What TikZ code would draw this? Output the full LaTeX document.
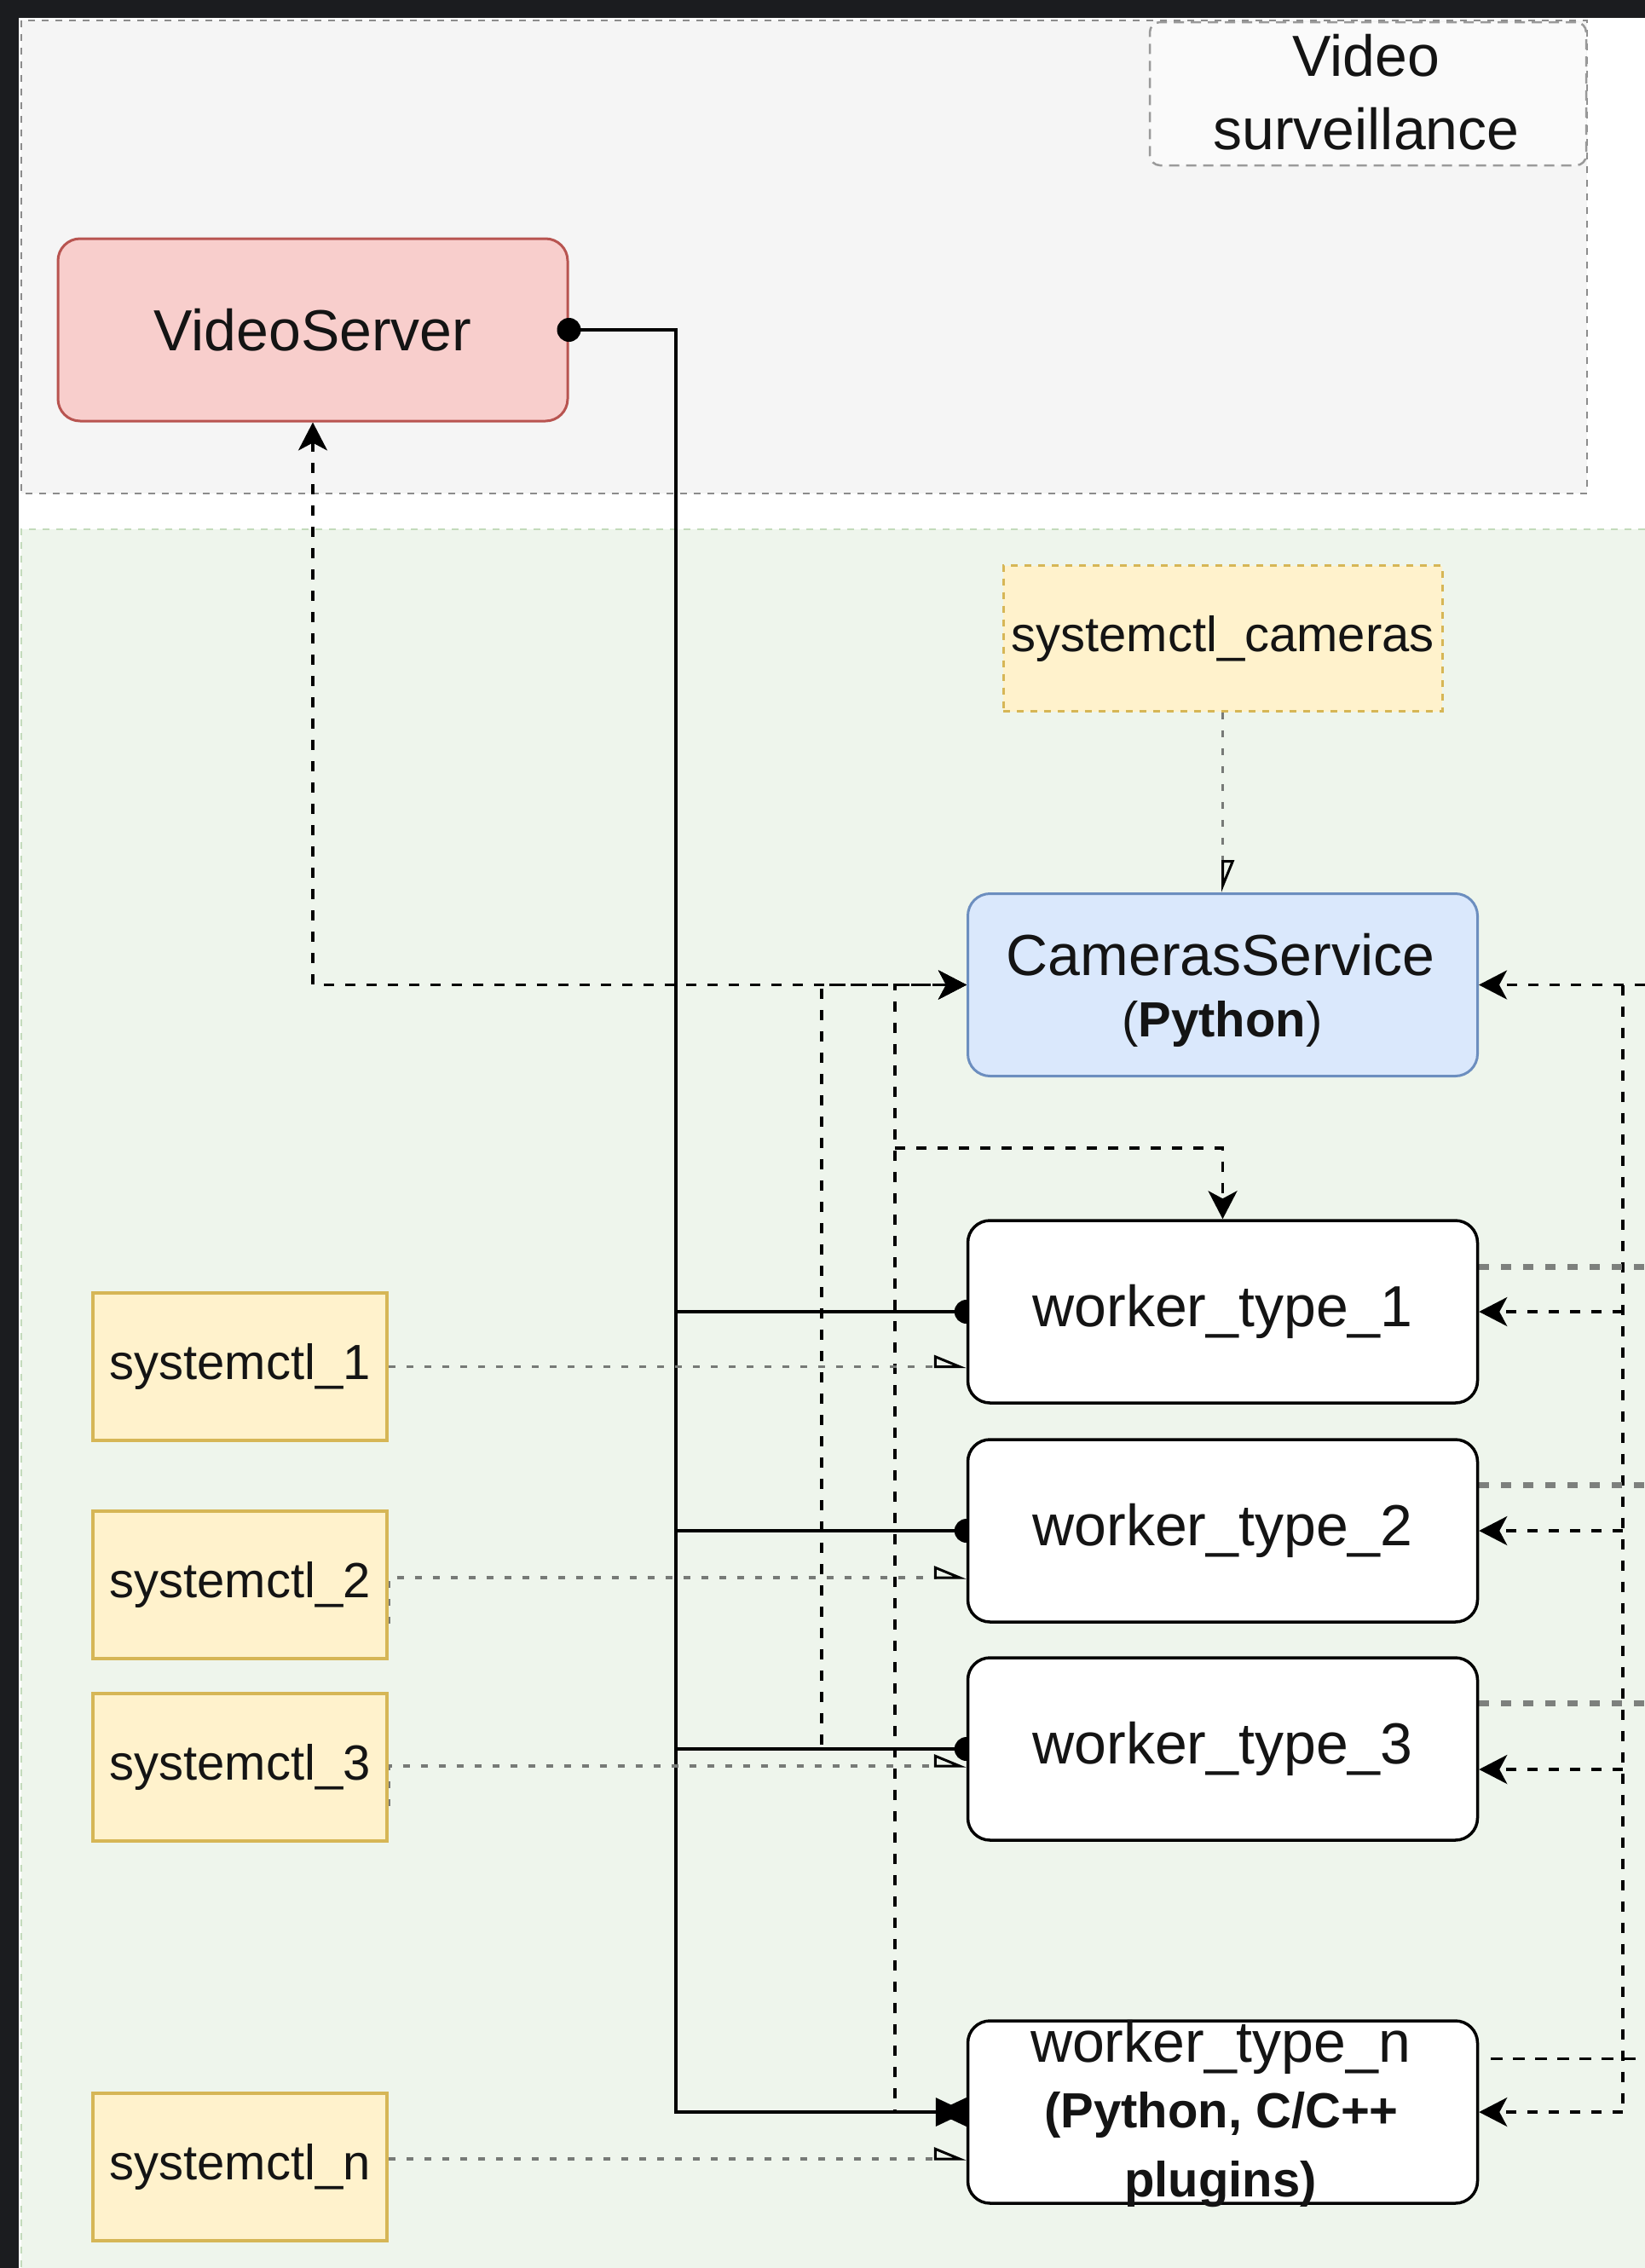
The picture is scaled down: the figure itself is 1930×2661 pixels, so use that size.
\documentclass[tikz,border=0pt]{standalone}
\usepackage{fontspec}
\setmainfont{Liberation Sans}
\usetikzlibrary{arrows.meta,calc}
\definecolor{frameDark}{HTML}{1B1C1F}
\definecolor{grayFill}{HTML}{F5F5F5}
\definecolor{grayLine}{HTML}{8C8C8C}
\definecolor{labelFill}{HTML}{FAFAFA}
\definecolor{labelLine}{HTML}{9A9A9A}
\definecolor{greenFill}{HTML}{EEF5EC}
\definecolor{greenLine}{HTML}{C3DBBB}
\definecolor{redFill}{HTML}{F8CECC}
\definecolor{redLine}{HTML}{B85450}
\definecolor{blueFill}{HTML}{DAE8FC}
\definecolor{blueLine}{HTML}{6C8EBF}
\definecolor{yelFill}{HTML}{FFF2CC}
\definecolor{yelLine}{HTML}{D6B656}
\definecolor{dotGray}{HTML}{777A77}
\definecolor{outGray}{HTML}{7D807D}
\definecolor{txt}{HTML}{141414}
\pgfdeclarelayer{bg}\pgfdeclarelayer{edges}\pgfdeclarelayer{fg}
\pgfsetlayers{bg,edges,main,fg}
\tikzset{
  bigfont/.style={font=\fontsize{68}{80}\selectfont, text=txt},
  smallfont/.style={font=\fontsize{58}{70}\selectfont, text=txt},
  wbox/.style={rectangle, rounded corners=26pt, minimum width=598pt, minimum height=214pt,
    inner sep=0pt, line width=3.5pt, draw=black, fill=white, bigfont},
  vsbox/.style={wbox, draw=redLine, fill=redFill, line width=3pt},
  csbox/.style={wbox, draw=blueLine, fill=blueFill, line width=3pt},
  sysbox/.style={rectangle, minimum width=345pt, minimum height=173pt, inner sep=0pt,
    line width=4pt, draw=yelLine, fill=yelFill, smallfont},
  syscam/.style={sysbox, minimum width=515pt, minimum height=171pt, line width=3pt,
    dash pattern=on 8pt off 8pt},
  lblbox/.style={rectangle, rounded corners=12pt, minimum width=512pt, minimum height=168pt,
    inner sep=0pt, line width=2.5pt, draw=labelLine, fill=labelFill, dash pattern=on 12pt off 8pt},
  txtnode/.style={anchor=base, inner sep=0pt},
  solidline/.style={draw=black, line width=3.5pt},
  edash/.style={draw=black, line width=3.5pt, dash pattern=on 12pt off 13pt},
  edashthin/.style={draw=black, line width=3pt, dash pattern=on 14pt off 12pt},
  dotline/.style={draw=dotGray, line width=3.5pt, dash pattern=on 8pt off 13pt},
  outdash/.style={draw=outGray, line width=7pt, dash pattern=on 12pt off 14pt},
  halfarrow/.style={-{Triangle[open,left,length=34pt,width=27pt,color=black,line width=3pt]}},
}
\begin{document}
\begin{tikzpicture}[x=1pt,y=-1pt,>={Stealth[length=33pt,width=34pt,inset=9pt]}]
\useasboundingbox (0,0) rectangle (1930,2661);
\begin{pgfonlayer}{bg}
  \fill[white] (0,0) rectangle (1930,2661);
  \draw[draw=grayLine, fill=grayFill, line width=2.5pt, dash pattern=on 8pt off 8pt]
    (25,24) rectangle (1862,579);
  \fill[greenFill] (25,621) rectangle (1930,2661);
  \draw[draw=greenLine, line width=2.5pt, dash pattern=on 8pt off 8pt]
    (1930,621) -- (25,621) -- (25,2661);
  \fill[frameDark] (0,0) rectangle (1930,21);
  \fill[frameDark] (0,0) rectangle (22,2661);
\end{pgfonlayer}

% nodes
\node[lblbox] (vsl) at (1605,110) {};
\node[txtnode, bigfont] (vslT1) at (1603,89) {Video};
\node[txtnode, bigfont] (vslT2) at (1603,175) {surveillance};

\node[vsbox] (vs) at (367,387) {VideoServer};
\node[syscam] (sc) at (1434.5,749) {systemctl\_cameras};
\node[csbox] (cs) at (1434.5,1155.5) {};
\node[txtnode, bigfont] (csT1) at (1432,1144) {CamerasService};
\node[txtnode, smallfont] (csT2) at (1434,1216) {(\textbf{Python})};

\node[wbox] (w1) at (1434.5,1539) {worker\_type\_1};
\node[wbox] (w2) at (1434.5,1796) {worker\_type\_2};
\node[wbox] (w3) at (1434.5,2052) {worker\_type\_3};
\node[wbox] (wn) at (1434.5,2478) {};
\node[txtnode, bigfont] (wnT1) at (1432,2419) {worker\_type\_n};
\node[txtnode, smallfont] (wnT2) at (1433,2496) {\bfseries (Python, C/C++};
\node[txtnode, smallfont] (wnT3) at (1432,2577) {\bfseries plugins)};

\node[sysbox] (s1) at (281.5,1603.5) {systemctl\_1};
\node[sysbox] (s2) at (281.5,1859.5) {systemctl\_2};
\node[sysbox] (s3) at (281.5,2073.5) {systemctl\_3};
\node[sysbox] (sn) at (281.5,2542.5) {systemctl\_n};

% helper coordinates
\coordinate (busTop) at (793,387);
\coordinate (v964) at (964,0);
\coordinate (v1050) at (1050,1347);
\coordinate (rx) at (1904,0);
\coordinate (edgeX) at (1930,0);
\coordinate (w3in) at ($(w3.east)+(0,24)$);
\coordinate (w1out) at ($(w1.east)+(0,-53)$);
\coordinate (w2out) at ($(w2.east)+(0,-54)$);
\coordinate (w3out) at ($(w3.east)+(0,-54)$);
\coordinate (wnout) at ($(wn.east)+(14,-63)$);
\coordinate (s2o) at ($(s2.east)+(0,-8.5)$);
\coordinate (s2s) at ($(s2.east)+(0,45)$);
\coordinate (s3o) at ($(s3.east)+(0,-1.5)$);
\coordinate (s3s) at ($(s3.east)+(0,45)$);
\coordinate (sno) at ($(sn.east)+(0,-9.5)$);

\begin{pgfonlayer}{edges}
  % solid bus from VideoServer
  \draw[solidline] (vs.east) -- (busTop) -- (busTop |- wn.west) -- (wn.west);
  \draw[solidline] (busTop |- w1.west) -- (w1.west);
  \draw[solidline] (busTop |- w2.west) -- (w2.west);
  \draw[solidline] (busTop |- w3.west) -- (w3.west);
  \fill (w1.west) circle (14pt);
  \fill (w2.west) circle (14pt);
  \fill (w3.west) circle (14pt);
  \fill ($(wn.west)+(-36,-17)$) -- ($(wn.west)+(-36,17)$) -- (wn.west) -- cycle;
  \fill ($(wn.west)+(0,-17)$) -- ($(wn.west)+(0,17)$) -- ($(wn.west)+(-36,0)$) -- cycle;

  % dashed control lines on the left
  \draw[edash,<->] (vs.south) |- (cs.west);
  \draw[edash,->] (w3.west) -| (v964 |- cs.west) -- (cs.west);
  \draw[edash,->] (wn.west) -| (v1050 |- cs.west) -- (cs.west);
  \draw[edash,->] (v1050) -| (w1.north);

  % dashed lines on the right
  \draw[edash,->] (edgeX |- cs.east) -- (cs.east);
  \draw[edash] (rx |- cs.east) -- (rx |- wn.east);
  \draw[edash,->] (rx |- w1.east) -- (w1.east);
  \draw[edash,->] (rx |- w2.east) -- (w2.east);
  \draw[edash,->] (rx |- w3in) -- (w3in);
  \draw[edash,->] (rx |- wn.east) -- (wn.east);

  % outputs to the right
  \draw[outdash] (w1out) -- (edgeX |- w1out);
  \draw[outdash] (w2out) -- (edgeX |- w2out);
  \draw[outdash] (w3out) -- (edgeX |- w3out);
  \draw[edashthin] (wnout) -- (edgeX |- wnout);

  % systemctl links
  \draw[dotline,halfarrow] (sc.south) -- (cs.north);
  \draw[dotline,halfarrow] (s1.east) -- (s1.east -| w1.west);
  \draw[dotline,halfarrow] (s2s) -- (s2o) -- (s2o -| w2.west);
  \draw[dotline,halfarrow] (s3s) -- (s3o) -- (s3o -| w3.west);
  \draw[dotline,halfarrow] (sno) -- (sno -| wn.west);
\end{pgfonlayer}

\begin{pgfonlayer}{fg}
  \fill (vs.east) circle (14pt);
\end{pgfonlayer}
\end{tikzpicture}
\end{document}
